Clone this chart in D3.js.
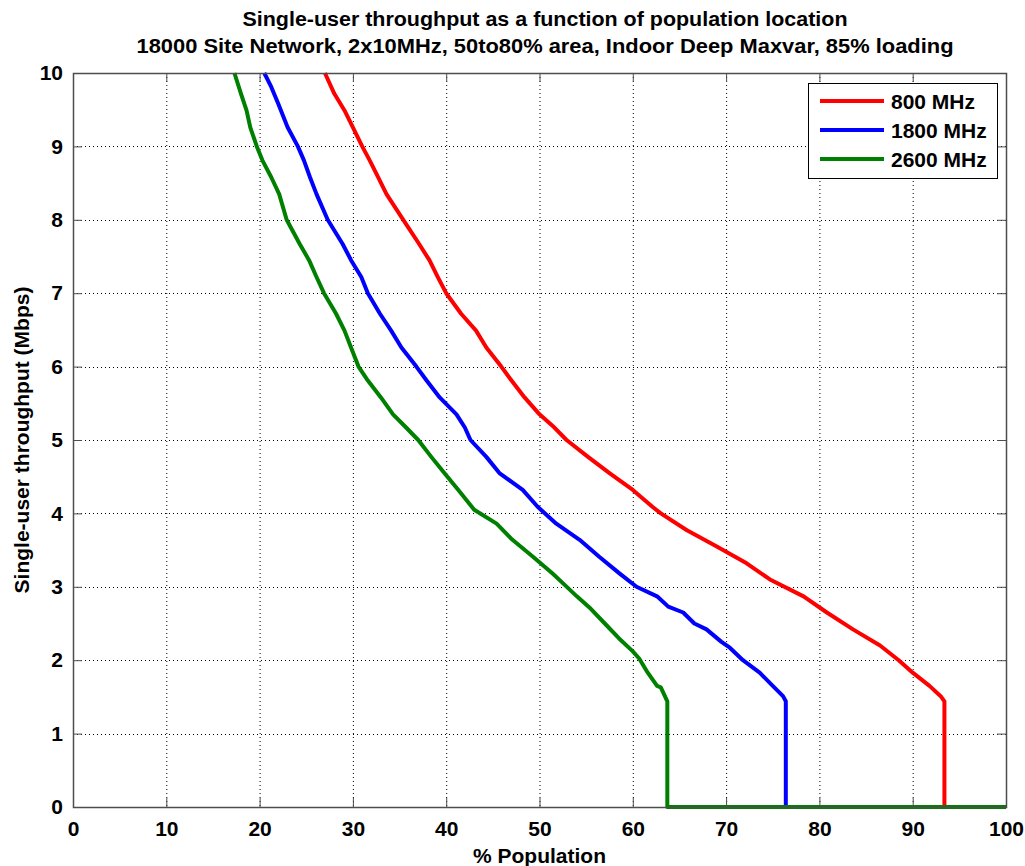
<!DOCTYPE html>
<html lang="en">
<head>
<meta charset="UTF-8">
<title>Single-user throughput</title>
<style>
  body { margin: 0; background: #fff; }
  svg text { font-family: "Liberation Sans", Arial, sans-serif; font-weight: bold; fill: #000; }
</style>
</head>
<body>
<div id="chart"></div>
<script src="https://d3js.org/d3.v7.min.js"></script>
<script>
// % population vs single-user throughput (Mbps)
var series = ["800 MHz", "1800 MHz", "2600 MHz"];
var colors = ["#ff0000", "#0000ff", "#008000"];

var pts800 = [[27.0,10],[28.0,9.72],[29.1,9.49],[30.0,9.26],[31.0,9.0],[31.8,8.81],[32.7,8.58],[33.6,8.35],
  [35.4,8.0],[37.1,7.67],[38.2,7.45],[39.1,7.22],[40.0,7.0],[41.6,6.72],[43.2,6.49],[44.3,6.26],[45.9,6.0],
  [47.0,5.81],[48.4,5.58],[50.0,5.35],[51.6,5.17],[52.9,5.0],[55.2,4.77],[57.5,4.55],[60.0,4.32],[62.1,4.09],
  [63.0,4.0],[65.8,3.77],[69.0,3.55],[72.2,3.32],[74.7,3.10],[78.3,2.87],[80.8,2.65],[83.6,2.42],[86.5,2.2],
  [88.5,2.0],[90.0,1.83],[91.8,1.65],[93.0,1.51],[93.4,1.44],[93.4,0],[100,0]];

var pts1800 = [[20.5,10],[21.25,9.81],[22.0,9.58],[23.0,9.26],[24.1,9.0],[24.75,8.81],[25.4,8.58],[26.1,8.35],
  [27.3,8.0],[28.9,7.67],[29.8,7.45],[30.9,7.22],[31.6,7.0],[32.9,6.72],[34.1,6.49],[35.2,6.26],[36.8,6.0],
  [37.9,5.81],[39.3,5.58],[41.1,5.35],[42.0,5.17],[42.6,5.0],[44.3,4.77],[45.7,4.55],[48.2,4.32],[49.8,4.09],
  [51.8,3.86],[54.3,3.64],[56.4,3.41],[58.6,3.18],[60.4,3.0],[62.6,2.87],[63.8,2.73],[65.4,2.65],[66.6,2.5],
  [67.9,2.42],[69.5,2.25],[70.4,2.17],[71.8,2.0],[73.6,1.83],[75.0,1.65],[76.1,1.51],[76.4,1.44],[76.4,0],[100,0]];

var pts2600 = [[17.3,10],[18.0,9.72],[18.6,9.49],[19.0,9.26],[19.7,9.0],[20.3,8.81],[21.25,8.58],[22.1,8.35],
  [22.9,8.0],[24.3,7.67],[25.3,7.45],[26.1,7.22],[26.9,7.0],[28.2,6.72],[29.1,6.49],[29.8,6.26],[30.6,6.0],
  [31.6,5.81],[33.0,5.58],[34.3,5.35],[35.7,5.17],[37.0,5.0],[38.4,4.77],[39.8,4.55],[41.3,4.32],[43.0,4.05],
  [45.4,3.86],[47.1,3.64],[49.3,3.41],[51.4,3.18],[52.5,3.05],[54.0,2.87],[55.5,2.7],[57.0,2.5],[58.5,2.3],
  [60.0,2.12],[60.7,2.02],[61.6,1.83],[62.6,1.65],[63.0,1.63],[63.7,1.44],[63.7,0],[100,0]];

var xTicks = [0, 10, 20, 30, 40, 50, 60, 70, 80, 90, 100];
var yTicks = [0, 1, 2, 3, 4, 5, 6, 7, 8, 9, 10];

var allPts = [pts800, pts1800, pts2600];

var W = 1025, H = 866;
var margin = { top: 73, right: 19, bottom: 59, left: 73 };
var width = W - margin.left - margin.right,
    height = H - margin.top - margin.bottom;

var svg = d3.select("#chart").append("svg")
    .attr("width", W).attr("height", H);

var g = svg.append("g")
    .attr("transform", "translate(" + margin.left + "," + margin.top + ")");

var x = d3.scaleLinear().domain([0, 100]).range([0, width]);
var y = d3.scaleLinear().domain([0, 10]).range([height, 0]);

// dotted grid
g.append("g").selectAll("line")
    .data(xTicks.slice(1, -1))
    .enter().append("line")
    .attr("x1", function (d) { return x(d) + 0.5; })
    .attr("x2", function (d) { return x(d) + 0.5; })
    .attr("y1", 0).attr("y2", height)
    .attr("stroke", "#000").attr("stroke-width", 1)
    .attr("stroke-dasharray", "1,3");

g.append("g").selectAll("line")
    .data(yTicks.slice(1, -1))
    .enter().append("line")
    .attr("y1", function (d) { return Math.round(y(d)) + 0.5; })
    .attr("y2", function (d) { return Math.round(y(d)) + 0.5; })
    .attr("x1", 0).attr("x2", width)
    .attr("stroke", "#000").attr("stroke-width", 1)
    .attr("stroke-dasharray", "1,3");

// curves
var line = d3.line()
    .x(function (d) { return x(d[0]); })
    .y(function (d) { return y(d[1]); });

g.selectAll("path.curve")
    .data(allPts)
    .enter().append("path")
    .attr("class", "curve")
    .attr("d", line)
    .attr("fill", "none")
    .attr("stroke", function (d, i) { return colors[i]; })
    .attr("stroke-width", 4)
    .attr("stroke-linejoin", "round");

// axes with inward ticks, box style
var axisColor = "#4d4d4d";
function styleAxis(sel) {
    sel.select(".domain").remove();
    sel.selectAll(".tick line").attr("stroke", axisColor).attr("stroke-width", 1);
    sel.selectAll(".tick text").style("font-size", "21px").attr("fill", "#000");
}

g.append("g")
    .attr("transform", "translate(0," + height + ")")
    .call(d3.axisBottom(x).tickValues(xTicks).tickSizeInner(-9).tickSizeOuter(0).tickPadding(14))
    .call(styleAxis);

g.append("g")
    .call(d3.axisTop(x).tickValues(xTicks).tickSizeInner(-9).tickSizeOuter(0).tickFormat(""))
    .call(styleAxis);

g.append("g")
    .call(d3.axisLeft(y).tickValues(yTicks).tickSizeInner(-9).tickSizeOuter(0).tickPadding(10))
    .call(styleAxis);

g.append("g")
    .attr("transform", "translate(" + width + ",0)")
    .call(d3.axisRight(y).tickValues(yTicks).tickSizeInner(-9).tickSizeOuter(0).tickFormat(""))
    .call(styleAxis);

g.append("rect")
    .attr("x", 0.5).attr("y", 0.5)
    .attr("width", width).attr("height", height)
    .attr("fill", "none").attr("stroke", axisColor).attr("stroke-width", 1.5);

// titles
svg.append("text")
    .attr("x", 545).attr("y", 26)
    .attr("text-anchor", "middle")
    .attr("textLength", 605).attr("lengthAdjust", "spacingAndGlyphs")
    .style("font-size", "20px")
    .text("Single-user throughput as a function of population location");
svg.append("text")
    .attr("x", 545).attr("y", 53)
    .attr("text-anchor", "middle")
    .attr("textLength", 817).attr("lengthAdjust", "spacingAndGlyphs")
    .style("font-size", "20px")
    .text("18000 Site Network, 2x10MHz, 50to80% area, Indoor Deep Maxvar, 85% loading");

svg.append("text")
    .attr("x", margin.left + width / 2).attr("y", 863)
    .attr("text-anchor", "middle")
    .style("font-size", "21px")
    .text("% Population");

svg.append("text")
    .attr("transform", "translate(29," + (margin.top + height / 2) + ") rotate(-90)")
    .attr("text-anchor", "middle")
    .style("font-size", "21px")
    .text("Single-user throughput (Mbps)");

// legend
var legend = svg.append("g").attr("transform", "translate(808,83)");
legend.append("rect")
    .attr("x", 0.5).attr("y", 0.5)
    .attr("width", 189).attr("height", 95)
    .attr("fill", "#fff").attr("stroke", "#000").attr("stroke-width", 1);

var item = legend.selectAll("g.item")
    .data(series)
    .enter().append("g")
    .attr("class", "item")
    .attr("transform", function (d, i) { return "translate(0," + (18 + i * 29) + ")"; });

item.append("line")
    .attr("x1", 12).attr("x2", 76)
    .attr("stroke", function (d, i) { return colors[i]; })
    .attr("stroke-width", 4);

item.append("text")
    .attr("x", 83).attr("y", 7.5)
    .style("font-size", "21px")
    .text(function (d) { return d; });
</script>
</body>
</html>
